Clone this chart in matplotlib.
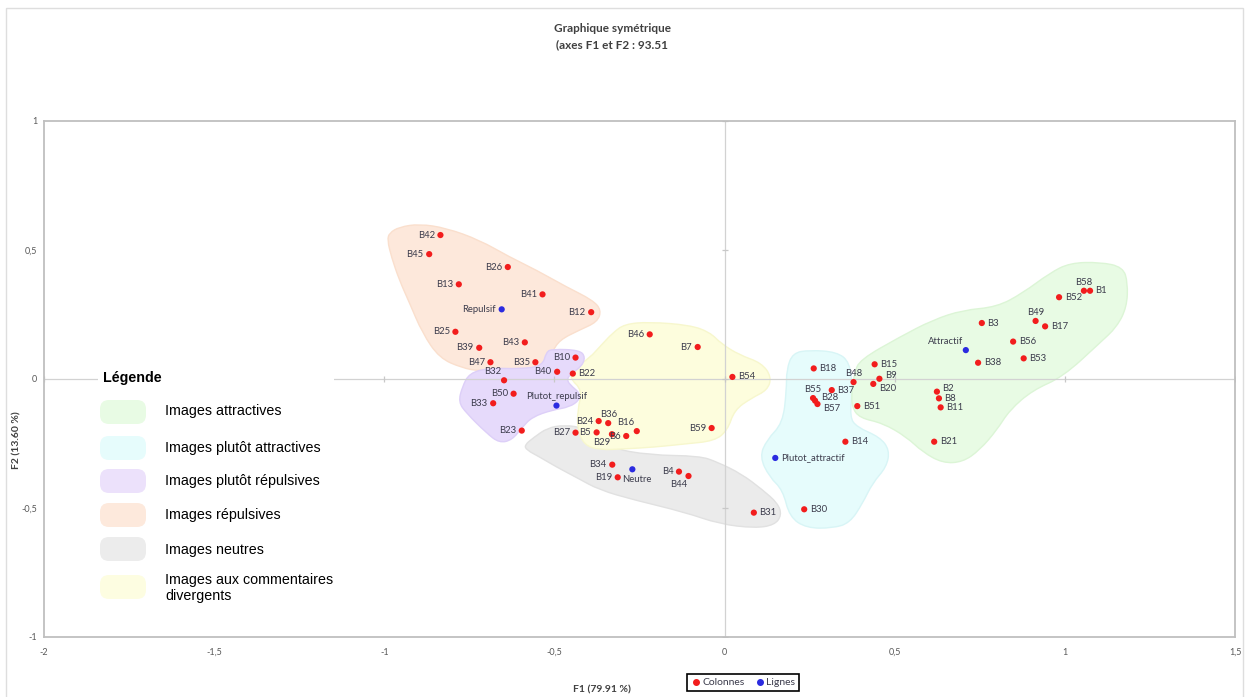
"""
Graphique symetrique (AFC) : images B1..B59 (colonnes) et modalites (lignes),
avec les zones colorees et la legende dessinee a la main comme dans l'original.
"""
import numpy as np
import matplotlib
matplotlib.use("Agg")
import matplotlib.pyplot as plt
import matplotlib.transforms as mtransforms
from matplotlib.path import Path
from matplotlib.patches import PathPatch, FancyBboxPatch, Rectangle
from matplotlib.lines import Line2D

W, H = 1247, 697

# --- colonnes (images) ---
col_names = ['B1', 'B2', 'B3', 'B4', 'B5', 'B6', 'B7', 'B8', 'B9', 'B10',
             'B11', 'B12', 'B13', 'B14', 'B15', 'B16', 'B17', 'B18', 'B19', 'B20',
             'B21', 'B22', 'B23', 'B24', 'B25', 'B26', 'B27', 'B28', 'B29', 'B30',
             'B31', 'B32', 'B33', 'B34', 'B35', 'B36', 'B37', 'B38', 'B39', 'B40',
             'B41', 'B42', 'B43', 'B44', 'B45', 'B46', 'B47', 'B48', 'B49', 'B50',
             'B51', 'B52', 'B53', 'B54', 'B55', 'B56', 'B57', 'B58', 'B59']
col_x = [1.074, 0.624, 0.756, -0.134, -0.376, -0.289, -0.079, 0.630, 0.455, -0.438,
         0.635, -0.392, -0.781, 0.355, 0.441, -0.258, 0.942, 0.262, -0.314, 0.437,
         0.616, -0.446, -0.596, -0.370, -0.791, -0.637, -0.438, 0.266, -0.331, 0.234,
         0.086, -0.648, -0.680, -0.330, -0.556, -0.342, 0.315, 0.745, -0.721, -0.492,
         -0.535, -0.835, -0.587, -0.106, -0.868, -0.220, -0.688, 0.379, 0.914, -0.620,
         0.390, 0.983, 0.879, 0.023, 0.260, 0.848, 0.273, 1.056, -0.038]
col_y = [0.342, -0.049, 0.217, -0.359, -0.207, -0.221, 0.124, -0.075, 0.001, 0.083,
         -0.110, 0.259, 0.367, -0.243, 0.057, -0.202, 0.204, 0.041, -0.381, -0.019,
         -0.243, 0.021, -0.200, -0.163, 0.183, 0.434, -0.208, -0.084, -0.214, -0.505,
         -0.518, -0.005, -0.094, -0.332, 0.065, -0.171, -0.043, 0.063, 0.121, 0.028,
         0.328, 0.558, 0.142, -0.376, 0.484, 0.173, 0.065, -0.012, 0.225, -0.057,
         -0.105, 0.317, 0.080, 0.008, -0.074, 0.145, -0.097, 0.342, -0.190]

# --- lignes (modalites) ---
row_names = ['Attractif', 'Plutot_attractif', 'Neutre', 'Plutot_repulsif', 'Repulsif']
row_x = [0.709, 0.149, -0.271, -0.494, -0.655]
row_y = [0.112, -0.306, -0.350, -0.103, 0.270]

# --- zones (contours, coordonnees F1/F2) ---
zone_repulsive_x = [-0.985, -0.956, -0.897, -0.818, -0.721, -0.632, -0.553, -0.465, -0.388,
                    -0.362, -0.374, -0.426, -0.485, -0.506, -0.524, -0.544, -0.603, -0.721,
                    -0.771, -0.838, -0.888, -0.926, -0.956, -0.979, -0.991]
zone_repulsive_y = [0.566, 0.589, 0.601, 0.585, 0.539, 0.473, 0.422, 0.357, 0.306,
                    0.267, 0.221, 0.190, 0.151, 0.105, 0.074, 0.043, 0.035, 0.031,
                    0.043, 0.081, 0.178, 0.295, 0.384, 0.473, 0.539]

zone_neutre_x = [-0.588, -0.559, -0.521, -0.471, -0.412, -0.338, -0.221, -0.074, -0.021,
                 0.050, 0.112, 0.156, 0.168, 0.147, 0.088, -0.015, -0.118, -0.265,
                 -0.368, -0.432, -0.494, -0.544, -0.582]
zone_neutre_y = [-0.256, -0.225, -0.190, -0.178, -0.190, -0.267, -0.295, -0.298, -0.322,
                 -0.368, -0.430, -0.481, -0.527, -0.566, -0.578, -0.562, -0.516, -0.469,
                 -0.430, -0.384, -0.341, -0.302, -0.275]

zone_divergent_x = [-0.329, -0.294, -0.221, -0.103, -0.044, -0.009, 0.044, 0.109, 0.138,
                    0.126, 0.079, 0.029, 0.009, -0.029, -0.118, -0.206, -0.294, -0.368,
                    -0.412, -0.432, -0.432, -0.418, -0.456, -0.441, -0.397, -0.362]
zone_divergent_y = [0.178, 0.213, 0.221, 0.209, 0.182, 0.136, 0.093, 0.062, 0.008,
                    -0.043, -0.074, -0.120, -0.198, -0.240, -0.252, -0.264, -0.271, -0.275,
                    -0.256, -0.198, -0.120, -0.043, 0.004, 0.043, 0.081, 0.132]

zone_plutot_rep_x = [-0.524, -0.506, -0.426, -0.409, -0.421, -0.450, -0.465, -0.447, -0.426,
                     -0.426, -0.456, -0.506, -0.565, -0.594, -0.624, -0.662, -0.700, -0.759,
                     -0.782, -0.771, -0.750, -0.691, -0.603, -0.535]
zone_plutot_rep_y = [0.105, 0.116, 0.112, 0.085, 0.047, 0.023, -0.004, -0.031, -0.054,
                     -0.081, -0.109, -0.120, -0.147, -0.186, -0.236, -0.248, -0.209, -0.132,
                     -0.089, -0.031, 0.023, 0.043, 0.039, 0.050]

zone_plutot_att_x = [0.200, 0.250, 0.329, 0.368, 0.376, 0.368, 0.388, 0.456, 0.485, 0.476,
                     0.435, 0.406, 0.368, 0.318, 0.241, 0.191, 0.171, 0.132, 0.103, 0.124,
                     0.171, 0.182, 0.182]
zone_plutot_att_y = [0.101, 0.112, 0.105, 0.066, -0.043, -0.147, -0.186, -0.225, -0.275,
                     -0.341, -0.403, -0.481, -0.558, -0.578, -0.578, -0.535, -0.430, -0.380,
                     -0.302, -0.236, -0.171, -0.043, 0.035]

zone_attractive_x = [0.382, 0.397, 0.515, 0.612, 0.700, 0.800, 0.876, 0.956, 1.015, 1.103,
                     1.171, 1.185, 1.182, 1.153, 1.103, 0.994, 0.906, 0.838, 0.800, 0.750,
                     0.700, 0.641, 0.582, 0.535, 0.465, 0.397, 0.374, 0.374]
zone_attractive_y = [0.023, 0.074, 0.163, 0.229, 0.267, 0.279, 0.333, 0.411, 0.450, 0.453,
                     0.434, 0.372, 0.279, 0.202, 0.140, 0.008, -0.043, -0.120, -0.198, -0.275,
                     -0.322, -0.326, -0.283, -0.225, -0.171, -0.151, -0.109, -0.043]

legend_labels = ['Images attractives', 'Images plutôt attractives',
                 'Images plutôt répulsives', 'Images répulsives', 'Images neutres',
                 'Images aux commentaires\ndivergents']

x_ticks = [-2, -1.5, -1, -0.5, 0, 0.5, 1, 1.5]
y_ticks = [-1, -0.5, 0, 0.5, 1]

# position des etiquettes (L par defaut)
label_side = {}
for n in ['B1', 'B3', 'B8', 'B11', 'B14', 'B15', 'B17', 'B18', 'B21',
          'B22', 'B30', 'B31', 'B37', 'B38', 'B51', 'B52', 'B53', 'B54', 'B56',
          'Plutot_attractif']:
    label_side[n] = 'R'
for n in ['B2', 'B9', 'B28']:
    label_side[n] = 'RU'
for n in ['B20', 'B57']:
    label_side[n] = 'RD'
for n in ['B36', 'B48', 'B49', 'B55', 'B58', 'Plutot_repulsif']:
    label_side[n] = 'A'
for n in ['B16', 'B32', 'Attractif']:
    label_side[n] = 'AL'
for n in ['B29', 'B44']:
    label_side[n] = 'BL'
label_side['Neutre'] = 'B'

SIDES = {
    'L': ((-4, 0), 'right', 'center'),
    'R': ((4, 0), 'left', 'center'),
    'RU': ((4, 2), 'left', 'center'),
    'RD': ((4, -3.5), 'left', 'center'),
    'A': ((0, 3), 'center', 'bottom'),
    'AL': ((-2, 3), 'right', 'bottom'),
    'B': ((3, -4), 'center', 'top'),
    'BL': ((-1, -3), 'right', 'top'),
}

RED = '#f21d1d'
BLUE = '#2b2be0'
LABEL_COLOR = '#3c3c4c'

# fill, edge
ZONE_STYLES = [
    ('#fde8db', '#fadfcd'),   # repulsives
    ('#ebebeb', '#e1e1e1'),   # neutres
    ('#fdfddd', '#f7f7cd'),   # divergents
    ('#e6dafb', '#ddcff8'),   # plutot repulsives
    ('#e6fcfc', '#d8f5f6'),   # plutot attractives
    ('#e8fbe4', '#dcf5d6'),   # attractives
]
LEGEND_COLORS = ['#e8fbe4', '#e6fcfc', '#ece1fb', '#fde9dc', '#ececec', '#fdfde1']


def blob_path(xs, ys):
    pts = np.column_stack([xs, ys])
    mids = (pts + np.roll(pts, -1, axis=0)) / 2
    verts = [mids[-1]]
    codes = [Path.MOVETO]
    for i in range(len(pts)):
        verts += [pts[i], mids[i]]
        codes += [Path.CURVE3, Path.CURVE3]
    return Path(verts, codes)


plt.rcParams['font.family'] = ['Lato', 'DejaVu Sans']

fig = plt.figure(figsize=(W / 100, H / 100), dpi=100)
# pixel coords of the picture (origin top-left) -> figure
pxT = mtransforms.Affine2D().scale(1 / W, -1 / H).translate(0, 1) + fig.transFigure

ax = fig.add_axes([44 / W, 1 - 637 / H, (1235 - 44) / W, (637 - 121) / H])
ax.set_xlim(-2, 1.5)
ax.set_ylim(-1, 1)

zones = [(zone_repulsive_x, zone_repulsive_y), (zone_neutre_x, zone_neutre_y),
         (zone_divergent_x, zone_divergent_y), (zone_plutot_rep_x, zone_plutot_rep_y),
         (zone_plutot_att_x, zone_plutot_att_y), (zone_attractive_x, zone_attractive_y)]
for (zx, zy), (fc, ec) in zip(zones, ZONE_STYLES):
    ax.add_patch(PathPatch(blob_path(zx, zy), facecolor=fc, edgecolor=ec, lw=1.0, zorder=1))

# axes through origin with small tick marks
ax.axhline(0, color='#d2d2d2', lw=0.9, zorder=2)
ax.axvline(0, color='#d2d2d2', lw=0.9, zorder=2)
ax.plot(x_ticks, np.zeros(len(x_ticks)), ls='none', marker='|', ms=4, mew=0.9,
        color='#c8c8c8', zorder=2)
ax.plot(np.zeros(len(y_ticks)), y_ticks, ls='none', marker='_', ms=4, mew=0.9,
        color='#c8c8c8', zorder=2)

ax.scatter(col_x, col_y, s=20, color=RED, edgecolors='none', zorder=5)
ax.scatter(row_x, row_y, s=20, color=BLUE, edgecolors='none', zorder=5)

for names, xs, ys in [(col_names, col_x, col_y), (row_names, row_x, row_y)]:
    for n, x, y in zip(names, xs, ys):
        off, ha, va = SIDES[label_side.get(n, 'L')]
        ax.annotate(n, (x, y), xytext=off, textcoords='offset points', ha=ha, va=va,
                    fontsize=6.8, color=LABEL_COLOR, zorder=6)

for s in ax.spines.values():
    s.set_color('#bfbfbf')
    s.set_linewidth(1.3)
ax.set_xticks(x_ticks)
ax.set_yticks(y_ticks)
fmt = lambda v: ('%g' % v).replace('.', ',')
ax.set_xticklabels([fmt(v) for v in x_ticks])
ax.set_yticklabels([fmt(v) for v in y_ticks])
ax.tick_params(length=0, labelsize=6.5, labelcolor='#595959')
ax.tick_params(axis='x', pad=8)
ax.tick_params(axis='y', pad=5)

# outer chart border
fig.add_artist(Rectangle((6, 8), 1237, 720, transform=pxT, fill=False,
                         edgecolor='#dedede', lw=1.0))

fig.text(612 / W, 1 - 28 / H, 'Graphique symétrique', ha='center', va='center',
         fontsize=8.5, fontweight='bold', color='#404040')
fig.text(612 / W, 1 - 45 / H, '(axes F1 et F2 : 93.51', ha='center', va='center',
         fontsize=8.5, fontweight='bold', color='#404040')
fig.text(602 / W, 1 - 690 / H, 'F1 (79.91 %)', ha='center', va='center',
         fontsize=7.5, fontweight='bold', color='#404040')
fig.text(17 / W, 1 - 440 / H, 'F2 (13.60 %)', ha='center', va='center', rotation=90,
         fontsize=7.5, fontweight='bold', color='#404040')

# hand-made legend box over the plot
fig.add_artist(Rectangle((98, 368), 236, 245, transform=pxT, facecolor='white',
                         edgecolor='none', zorder=3))
fig.text(103 / W, 1 - 378 / H, 'Légende', ha='left', va='center', fontsize=10.3,
         fontweight='bold', family='Liberation Sans', color='black', zorder=4)
sw_y = [412, 448, 481, 515, 549, 587]
txt_y = [411, 448, 481, 515, 550, 588]
for lab, c, sy, ty in zip(legend_labels, LEGEND_COLORS, sw_y, txt_y):
    fig.add_artist(FancyBboxPatch((100, sy - 12), 46, 24, transform=pxT,
                                  boxstyle='round,pad=0,rounding_size=9',
                                  facecolor=c, edgecolor='none', zorder=4))
    fig.text(165 / W, 1 - ty / H, lab, ha='left', va='center', fontsize=10.3,
             family='Liberation Sans', color='black', linespacing=1.25, zorder=4)

handles = [Line2D([], [], ls='none', marker='o', ms=4, color=RED, label='Colonnes'),
           Line2D([], [], ls='none', marker='o', ms=4, color=BLUE, label='Lignes')]
leg = fig.legend(handles=handles, loc='center', bbox_to_anchor=(743 / W, 1 - 682.5 / H),
                 ncol=2, fontsize=7.5, frameon=True, fancybox=False, framealpha=1,
                 edgecolor='black', handletextpad=0.1, columnspacing=1.0,
                 borderpad=0.35, handlelength=1.0)
leg.get_frame().set_linewidth(1.2)
for t in leg.get_texts():
    t.set_color('#3c3c4c')

fig.savefig('out.png', dpi=100)
